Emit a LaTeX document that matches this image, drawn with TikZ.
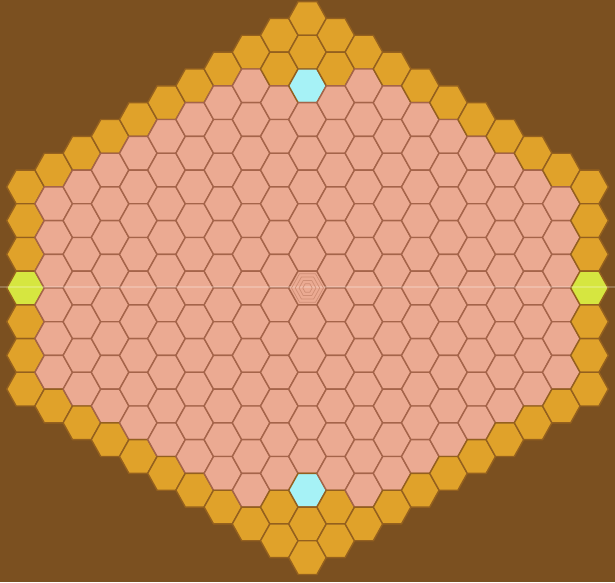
\documentclass[tikz,border=0pt]{standalone}
\definecolor{bgbrown}{HTML}{7B5020}
\definecolor{hexpink}{HTML}{EBAA92}
\definecolor{hexorange}{HTML}{E0A22A}
\definecolor{hexcyan}{HTML}{A6F2F6}
\definecolor{hexlime}{HTML}{D6E640}
\definecolor{hexedge}{HTML}{A5644A}
\definecolor{hexedgedark}{HTML}{94601E}
\begin{document}
\begin{tikzpicture}[x=1pt,y=-1pt,
  hexcell/.style={draw=hexedge, line width=1.4pt, line join=round}]
\fill[bgbrown] (0,0) rectangle (615,582);
\useasboundingbox (0,0) rectangle (615,582);
\def\cx{307.5}
\def\cy{288}
\def\dx{28.2}
\def\dy{33.7}
\foreach \q in {-10,...,10} {
  \pgfmathtruncatemacro\aq{abs(\q)}
  \pgfmathtruncatemacro\n{16-\aq}
  \foreach \k in {0,...,\n} {
    \pgfmathsetmacro\row{-(8-\aq/2)+\k}
    \pgfmathsetmacro\X{\cx+\q*\dx}
    \pgfmathsetmacro\Y{\cy+\row*\dy}
    \pgfmathtruncatemacro\e{min(\k,\n-\k)}
    \def\col{hexpink}\def\edg{hexedge}
    \ifnum\e=0 \def\col{hexorange}\def\edg{hexedgedark}\fi
    \ifnum\aq=10 \def\col{hexorange}\def\edg{hexedgedark}\ifnum\e=3 \def\col{hexlime}\fi\fi
    \ifnum\aq<2 \ifnum\e=1 \def\col{hexorange}\def\edg{hexedgedark}\fi\fi
    \ifnum\aq=0 \ifnum\e=2 \def\col{hexcyan}\def\edg{hexedgedark}\fi\fi
    \path[hexcell, fill=\col, draw=\edg, shift={(\X,\Y)}]
      (-18.8,0) -- (-9.4,-16.85) -- (9.4,-16.85) -- (18.8,0)
      -- (9.4,16.85) -- (-9.4,16.85) -- cycle;
  }
}
% faint horizontal line through the middle row
\draw[white, opacity=0.22, line width=1.2pt] (0,287) -- (615,287);
% concentric rings in the centre cell
\foreach \s in {0.25,0.45,0.65,0.85} {
  \draw[hexedge!40!hexpink, line width=0.7pt, shift={(\cx,\cy)}, scale=\s]
    (-18.8,0) -- (-9.4,-16.85) -- (9.4,-16.85) -- (18.8,0)
    -- (9.4,16.85) -- (-9.4,16.85) -- cycle;
}
\end{tikzpicture}
\end{document}
